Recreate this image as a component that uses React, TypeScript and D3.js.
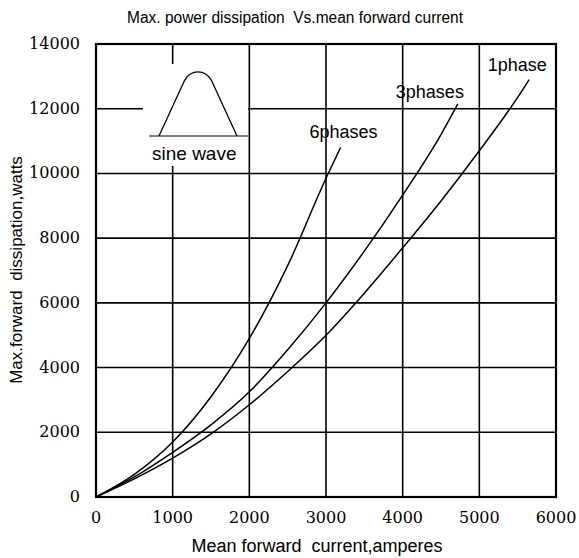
import * as d3 from "d3";

// x axis ticks (amperes) and y axis ticks (watts)
const xTicks = [0, 1000, 2000, 3000, 4000, 5000, 6000];
const yTicks = [0, 2000, 4000, 6000, 8000, 10000, 12000, 14000];

// [mean forward current A, max forward dissipation W]
const onePhase: [number, number][] = [
  [0, 0], [500, 560], [1000, 1200], [1500, 1950], [2000, 2850], [2500, 3880],
  [3000, 5000], [3500, 6300], [4000, 7700], [4500, 9150], [5000, 10700],
  [5500, 12350], [5650, 12900],
];
const threePhases: [number, number][] = [
  [0, 0], [500, 620], [1000, 1380], [1500, 2230], [2000, 3250], [2500, 4550],
  [3000, 6000], [3500, 7600], [4000, 9330], [4500, 11200], [4720, 12150],
];
const sixPhases: [number, number][] = [
  [0, 0], [500, 700], [1000, 1700], [1500, 3100], [2000, 4900], [2500, 7150],
  [3000, 9850], [3190, 10800],
];

const seriesNames = ["1phase", "3phases", "6phases"];

export default function App() {
  const width = 579;
  const height = 558;
  const marginLeft = 96;
  const marginRight = 23;
  const marginTop = 44;
  const marginBottom = 61;

  const x = d3.scaleLinear().domain([0, 6000]).range([marginLeft, width - marginRight]);
  const y = d3.scaleLinear().domain([0, 14000]).range([height - marginBottom, marginTop]);

  const line = d3
    .line<[number, number]>()
    .x((d) => x(d[0]))
    .y((d) => y(d[1]))
    .curve(d3.curveMonotoneX);

  const series = [onePhase, threePhases, sixPhases];
  // label offsets from each curve's upper end
  const labelOffset = [
    [-12, -9],
    [-28, -6],
    [3, -10],
  ];

  const sans = "Liberation Sans, Arial, sans-serif";
  const serif = "DejaVu Serif, serif";

  // sine-wave glyph in the inset box
  const inset = { x0: 143, x1: 248, y0: 64, y1: 166 };
  const gx0 = 159, gx1 = 237, gBase = 136, gTop = 71;
  const gw = gx1 - gx0, gh = gBase - gTop;
  const glyph = d3.path();
  glyph.moveTo(gx0, gBase);
  glyph.lineTo(gx0 + 0.33 * gw, gBase - 0.86 * gh);
  glyph.bezierCurveTo(gx0 + 0.41 * gw, gBase - 1.03 * gh, gx0 + 0.59 * gw, gBase - 1.03 * gh, gx0 + 0.67 * gw, gBase - 0.86 * gh);
  glyph.lineTo(gx1, gBase);

  return (
    <svg
      width={width}
      height={height}
      style={{ position: "absolute", left: 0, top: 0, background: "#fff" }}
    >
      <text
        x={295}
        y={23}
        textAnchor="middle"
        fontFamily={sans}
        fontSize={16}
        textLength={336}
        lengthAdjust="spacingAndGlyphs"
        style={{ whiteSpace: "pre" }}
      >
        {"Max. power dissipation  Vs.mean forward current"}
      </text>

      {/* grid */}
      <g stroke="#000" strokeWidth={1.6}>
        {xTicks.slice(1, -1).map((t) => (
          <line key={"gx" + t} x1={x(t)} x2={x(t)} y1={y(14000)} y2={y(0)} />
        ))}
        {yTicks.slice(1, -1).map((t) => (
          <line key={"gy" + t} x1={x(0)} x2={x(6000)} y1={y(t)} y2={y(t)} />
        ))}
      </g>

      {/* inset with sine wave */}
      <rect x={inset.x0} y={inset.y0} width={inset.x1 - inset.x0} height={inset.y1 - inset.y0} fill="#fff" />
      <line x1={149} x2={248} y1={gBase} y2={gBase} stroke="#000" strokeWidth={1.2} />
      <path d={glyph.toString()} fill="none" stroke="#000" strokeWidth={1.3} />
      <text x={152} y={160} fontFamily={sans} fontSize={19}>
        sine wave
      </text>

      {/* frame */}
      <rect
        x={x(0)}
        y={y(14000)}
        width={x(6000) - x(0)}
        height={y(0) - y(14000)}
        fill="none"
        stroke="#000"
        strokeWidth={2.2}
      />

      {series.map((s, i) => (
        <path key={seriesNames[i]} d={line(s) || ""} fill="none" stroke="#000" strokeWidth={1.5} />
      ))}

      {series.map((s, i) => {
        const end = s[s.length - 1];
        return (
          <text
            key={"lbl" + i}
            x={x(end[0]) + labelOffset[i][0]}
            y={y(end[1]) + labelOffset[i][1]}
            textAnchor="middle"
            fontFamily={sans}
            fontSize={18}
          >
            {seriesNames[i]}
          </text>
        );
      })}

      {/* tick labels */}
      <g fontFamily={serif} fontSize={16} fill="#000">
        {xTicks.map((t) => (
          <text key={"tx" + t} x={x(t)} y={y(0) + 26} textAnchor="middle">
            {t}
          </text>
        ))}
        {yTicks.map((t) => (
          <text key={"ty" + t} x={x(0) - 16} y={y(t) + 5} textAnchor="end">
            {t}
          </text>
        ))}
      </g>

      <text
        x={317}
        y={552}
        textAnchor="middle"
        fontFamily={sans}
        fontSize={18}
        style={{ whiteSpace: "pre" }}
      >
        {"Mean forward  current,amperes"}
      </text>
      <text
        transform={`translate(22,270) rotate(-90)`}
        textAnchor="middle"
        fontFamily={sans}
        fontSize={17}
        style={{ whiteSpace: "pre" }}
      >
        {"Max.forward  dissipation,watts"}
      </text>
    </svg>
  );
}
